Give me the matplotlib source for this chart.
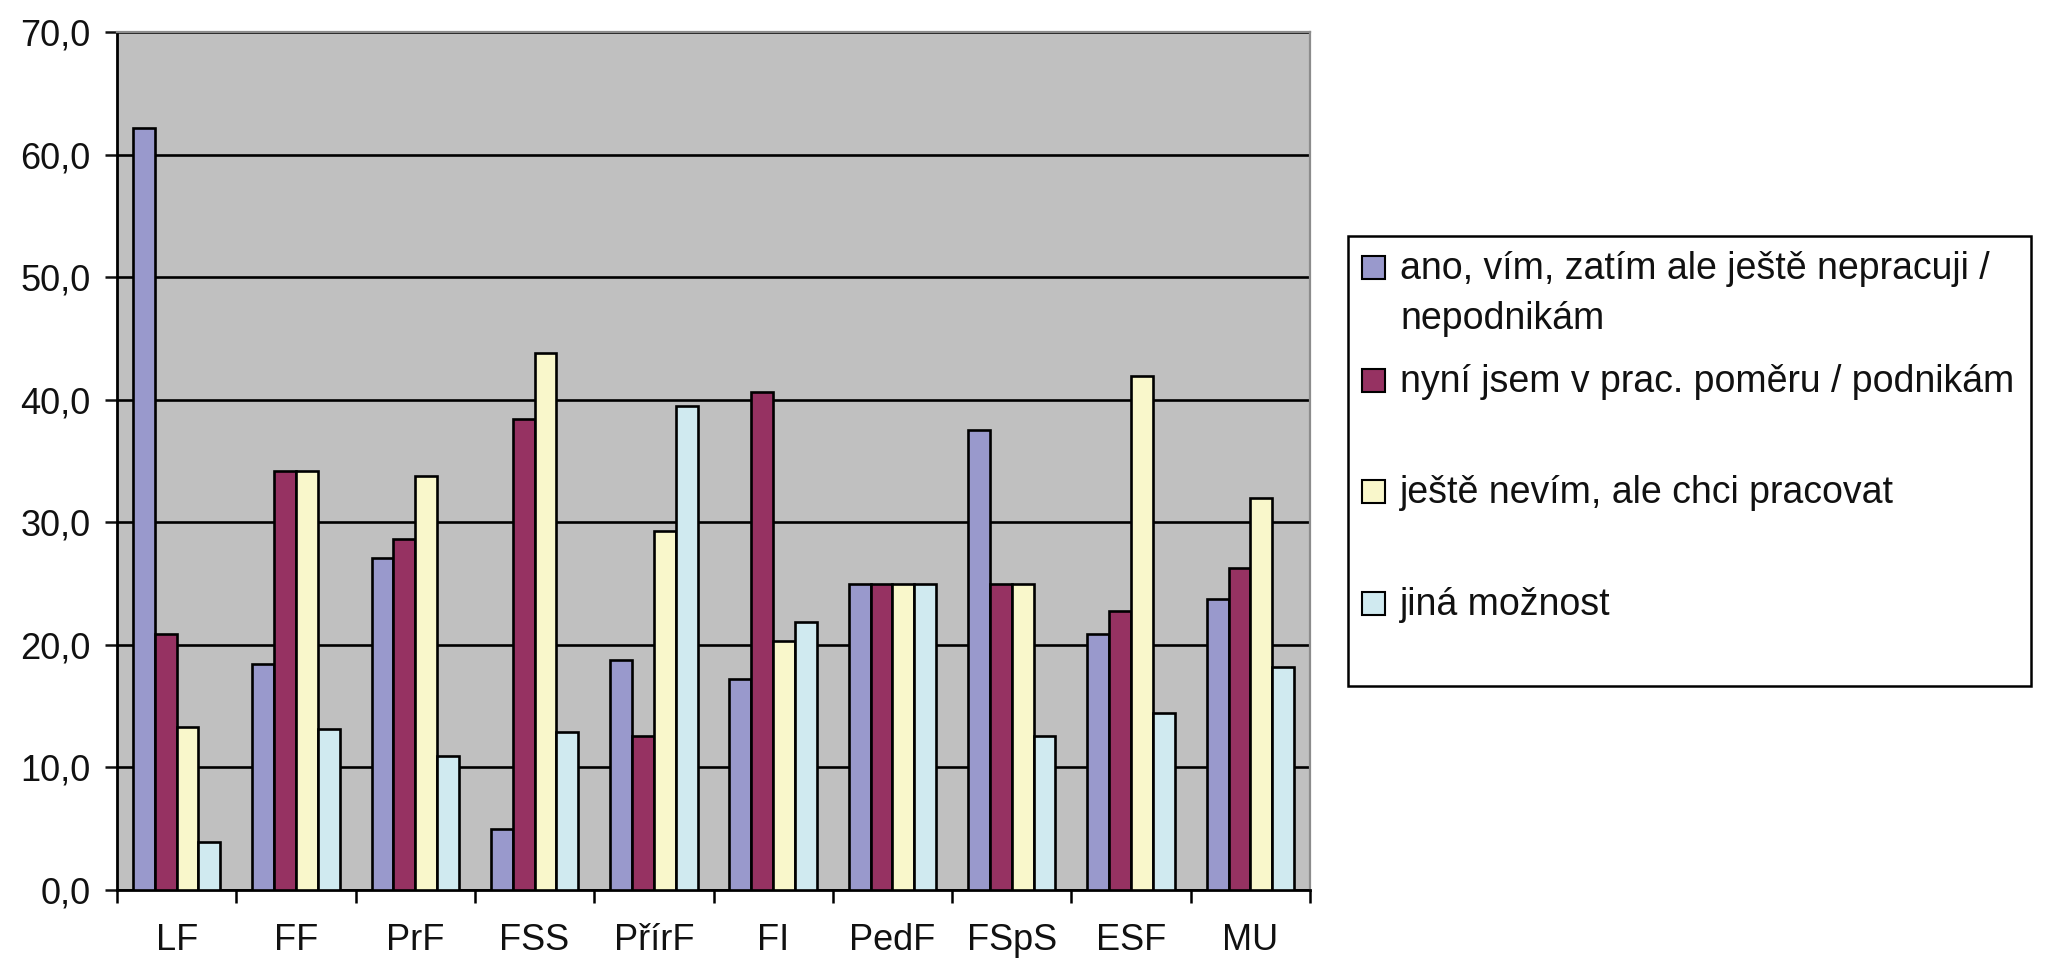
import matplotlib
matplotlib.use("Agg")
import matplotlib.pyplot as plt
import numpy as np
from matplotlib.patches import Rectangle
from matplotlib.ticker import FuncFormatter

plt.rcParams['font.family'] = ['Liberation Sans', 'DejaVu Sans']

fakulty = ['LF', 'FF', 'PrF', 'FSS', 'PřírF', 'FI', 'PedF', 'FSpS', 'ESF', 'MU']
odpovedi = ['ano, vím, zatím ale ještě nepracuji /\nnepodnikám',
            'nyní jsem v prac. poměru / podnikám',
            'ještě nevím, ale chci pracovat',
            'jiná možnost']

ano_vim = [62.2, 18.4, 27.1, 5.0, 18.8, 17.2, 25.0, 37.5, 20.9, 23.7]
pracuji = [20.9, 34.2, 28.6, 38.4, 12.6, 40.6, 25.0, 25.0, 22.8, 26.3]
nevim = [13.3, 34.2, 33.8, 43.8, 29.3, 20.3, 25.0, 25.0, 41.9, 32.0]
jina = [3.9, 13.1, 10.9, 12.9, 39.5, 21.9, 25.0, 12.6, 14.4, 18.2]

barvy = ['#9999cc', '#963262', '#f9f7cb', '#d0eaf0']

fig = plt.figure(figsize=(20.45, 9.63), dpi=100)
ax = fig.add_axes([0.0572, 0.0758, 0.5834, 0.891])
ax.set_facecolor('#c0c0c0')

x = np.arange(len(fakulty))
sirka = 0.183
serie = [ano_vim, pracuji, nevim, jina]
for i, hodnoty in enumerate(serie):
    ax.bar(x + (i - 1.5) * sirka, hodnoty, sirka, color=barvy[i],
           edgecolor='black', linewidth=1.9, zorder=3)

ax.set_xlim(-0.5, len(fakulty) - 0.5)
ax.set_ylim(0, 70)
ax.set_yticks(np.arange(0, 71, 10))
ax.yaxis.set_major_formatter(FuncFormatter(lambda v, p: f"{v:.1f}".replace('.', ',')))
ax.yaxis.grid(True, color='black', linewidth=1.9, zorder=1)

# ticky na hranicich kategorii, popisky uprostred
ax.set_xticks(np.arange(-0.5, len(fakulty), 1.0))
ax.set_xticklabels([])
ax.set_xticks(x, minor=True)
ax.set_xticklabels(fakulty, minor=True)
ax.tick_params(axis='x', which='major', length=9, width=1.8, direction='out')
ax.tick_params(axis='x', which='minor', length=0, pad=24, labelsize=26, colors='#111111')
ax.tick_params(axis='y', length=9, width=1.8, pad=10, labelsize=26, colors='#111111')

for s in ['left', 'bottom']:
    ax.spines[s].set_color('black')
    ax.spines[s].set_linewidth(2.0)
for s in ['top', 'right']:
    ax.spines[s].set_color('#8c8c8c')
    ax.spines[s].set_linewidth(1.6)

# legenda
fig.add_artist(Rectangle((1348 / 2045, 1 - 686 / 963), (2031 - 1348) / 2045, (686 - 236) / 963,
                         transform=fig.transFigure, facecolor='white', edgecolor='black',
                         linewidth=1.8))
radky = [279, 392, 503, 615]
for i, popis in enumerate(odpovedi):
    yb = 1 - radky[i] / 963
    fig.add_artist(Rectangle((1362 / 2045, yb), 23 / 2045, 23 / 963,
                             transform=fig.transFigure, facecolor=barvy[i],
                             edgecolor='black', linewidth=1.5))
    for j, radek in enumerate(popis.split('\n')):
        fig.text(1400 / 2045, yb - j * 50 / 963, radek, fontsize=27, va='baseline',
                 ha='left', color='#111111')

fig.savefig('out.png', dpi=100)
